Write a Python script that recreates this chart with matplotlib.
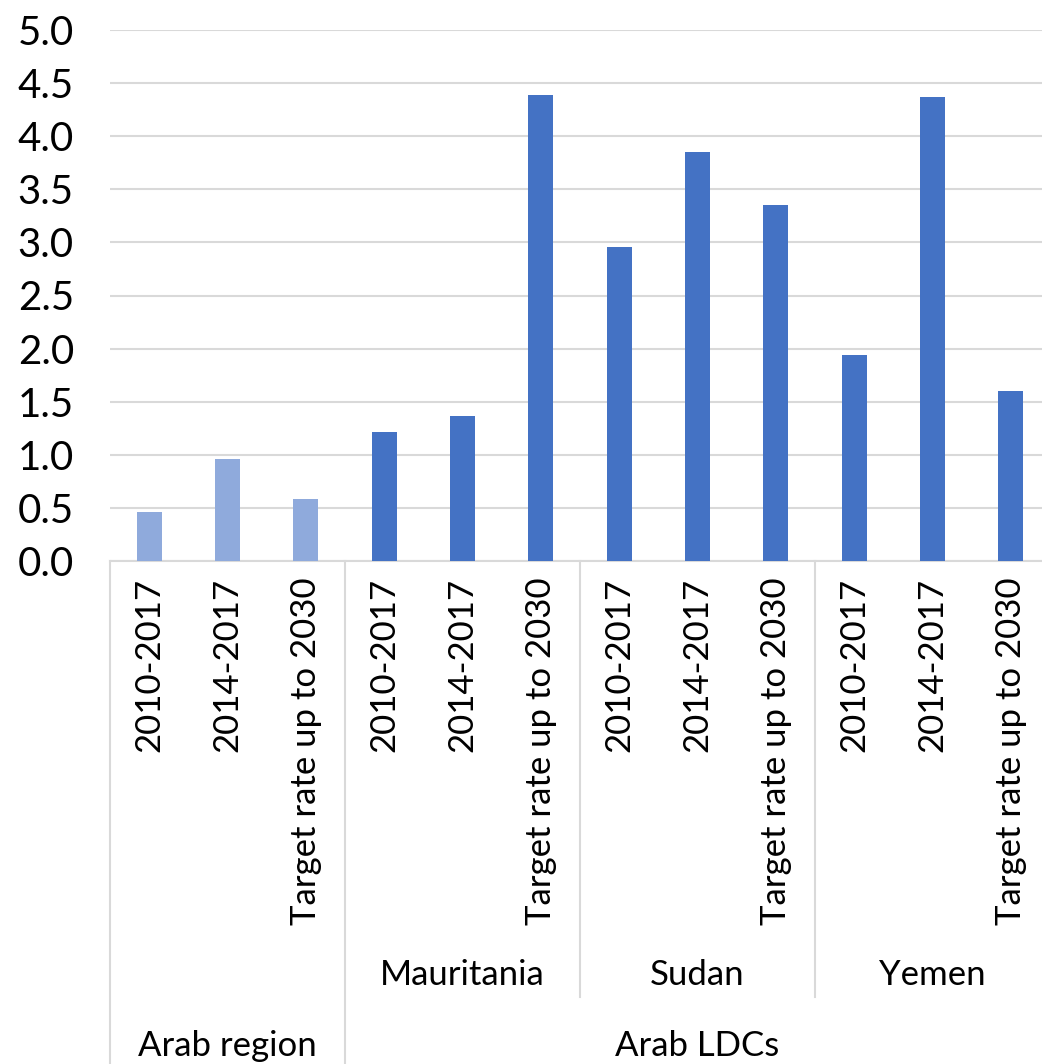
import matplotlib
matplotlib.use("Agg")
import matplotlib.pyplot as plt
import matplotlib.transforms as mtransforms

# chart data
periods = ["2010-2017", "2014-2017", "Target rate up to 2030"] * 4
values = [0.46, 0.96, 0.58, 1.21, 1.37, 4.39, 2.96, 3.85, 3.35, 1.94, 4.37, 1.60]
countries = ["", "Mauritania", "Sudan", "Yemen"]
groups = ["Arab region", "Arab LDCs"]
group_sizes = [1, 3]  # countries per group

light_blue = "#8FAADC"
dark_blue = "#4472C4"
grey = "#D9D9D9"

plt.rcParams['font.family'] = ['Lato', 'DejaVu Sans']

W, H = 1042, 1064
fig = plt.figure(figsize=(W / 100, H / 100), dpi=100)
ax = fig.add_axes([110 / W, 1 - 561 / H, 940 / W, 531 / H])

x = list(range(len(values)))
colors = [light_blue] * 3 + [dark_blue] * 9
ax.bar(x, values, width=0.32, color=colors, zorder=3)

ax.set_xlim(-0.5, len(values) - 0.5)
ax.set_ylim(0, 5.0)
ax.set_yticks([i * 0.5 for i in range(11)])
ax.set_yticklabels([f"{i * 0.5:.1f}" for i in range(11)], fontsize=29)
ax.yaxis.grid(True, color=grey, linewidth=1.5)
ax.set_axisbelow(True)
for s in ["top", "right", "left"]:
    ax.spines[s].set_visible(False)
ax.spines["bottom"].set_color(grey)
ax.spines["bottom"].set_linewidth(1.5)
ax.tick_params(axis="y", length=0, pad=26)
ax.tick_params(axis="x", length=0)
ax.set_xticks(x)
ax.set_xticklabels(periods, rotation=90, fontsize=25, va="top", ha="center")
ax.tick_params(axis="x", pad=12)

# multi-level category axis
trans = mtransforms.blended_transform_factory(ax.transData, ax.transAxes)
y_country_line = -(997 - 561) / 531
y_group_line = -(1064 - 561) / 531
y_country_text = -(975 - 561) / 531
y_group_text = -(1046 - 561) / 531

for i, c in enumerate(countries):
    if c:
        ax.text(i * 3 + 1, y_country_text, c, transform=trans, ha="center",
                va="center", fontsize=25)
# country separators
for b in [5.5, 8.5]:
    ax.plot([b, b], [0, y_country_line], transform=trans, color=grey,
            linewidth=1.5, clip_on=False)
# group separators
start = 0
for g, n in zip(groups, group_sizes):
    left = start * 3 - 0.5
    right = (start + n) * 3 - 0.5
    ax.plot([left, left], [0, y_group_line], transform=trans, color=grey,
            linewidth=1.5, clip_on=False)
    ax.text((left + right) / 2, y_group_text, g, transform=trans, ha="center",
            va="center", fontsize=25)
    start += n

fig.savefig("out.png", dpi=100)
